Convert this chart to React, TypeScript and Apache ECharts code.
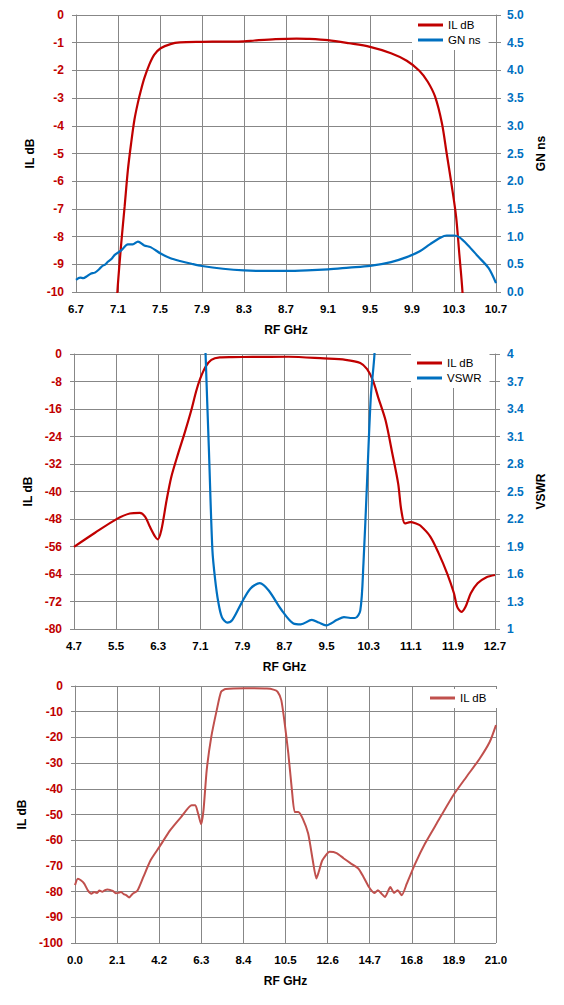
import React, { useEffect, useRef } from "react";
import * as echarts from "echarts";

// ---------- Chart 1: IL dB & GN ns (6.7 - 10.7 GHz)
const c1IL: [number, number][] = [
  [7.085, -11], [7.094, -10], [7.131, -8.24], [7.163, -6.92], [7.194, -5.6], [7.225, -4.63],
  [7.256, -3.79], [7.288, -3.19], [7.319, -2.71], [7.35, -2.29], [7.397, -1.8],
  [7.444, -1.44], [7.506, -1.2], [7.6, -1.05], [7.69, -0.99], [7.9, -0.97], [8.1, -0.96],
  [8.3, -0.95], [8.4, -0.92], [8.6, -0.87], [8.8, -0.85], [8.9, -0.86], [9.1, -0.91],
  [9.3, -1.02], [9.5, -1.15], [9.7, -1.38], [9.85, -1.65], [9.97, -2.01], [10.05, -2.41],
  [10.12, -2.95], [10.185, -3.91], [10.23, -4.99], [10.28, -6.2], [10.32, -7.28],
  [10.35, -8.6], [10.38, -9.96], [10.39, -11],
];
const c1GN: [number, number][] = [
  [6.7, 0.22], [6.74, 0.26], [6.77, 0.25], [6.8, 0.28], [6.84, 0.33], [6.88, 0.35],
  [6.92, 0.41], [6.944, 0.46], [6.98, 0.5], [7.006, 0.55], [7.04, 0.6], [7.069, 0.67],
  [7.131, 0.75], [7.194, 0.86], [7.24, 0.86], [7.29, 0.91], [7.35, 0.84], [7.41, 0.81],
  [7.51, 0.69], [7.6, 0.61], [7.69, 0.56], [7.8, 0.51], [7.9, 0.47], [8.1, 0.42],
  [8.3, 0.39], [8.5, 0.38], [8.7, 0.38], [8.9, 0.39], [9.1, 0.41], [9.3, 0.44],
  [9.5, 0.47], [9.7, 0.54], [9.85, 0.63], [9.97, 0.73], [10.07, 0.86], [10.17, 0.98],
  [10.23, 1.02], [10.3, 1.02], [10.35, 0.99], [10.43, 0.85], [10.53, 0.64],
  [10.63, 0.43], [10.7, 0.16],
];

// ---------- Chart 2: IL dB & VSWR (4.7 - 12.7 GHz)
const c2IL: [number, number][] = [
  [4.7, -56.1], [5.1, -52], [5.5, -48.1], [5.76, -46.4], [5.95, -46.2], [6.05, -47.3],
  [6.14, -50.2], [6.24, -53.1], [6.29, -53.9], [6.36, -51.2], [6.46, -42.5],
  [6.55, -35.7], [6.68, -28.9], [6.8, -23.1], [6.93, -16.3], [7.02, -10.9], [7.1, -7.1],
  [7.2, -3.7], [7.31, -1.7], [7.47, -1.0], [7.7, -0.9], [8.09, -0.85], [8.77, -0.8],
  [9.45, -1.3], [9.86, -1.7], [10.14, -2.6], [10.27, -4.4], [10.38, -7.7],
  [10.48, -12.6], [10.62, -19.3], [10.75, -29], [10.86, -37.7], [10.92, -45.5],
  [10.99, -49.3], [11.09, -48.9], [11.2, -49.3], [11.28, -49.9], [11.47, -53.1],
  [11.63, -58], [11.79, -63.8], [11.92, -69.6], [11.98, -73.5], [12.06, -75],
  [12.14, -73.5], [12.24, -69.6], [12.37, -66.7], [12.53, -65], [12.7, -64.3],
];
const c2VSWR: [number, number][] = [
  [7.17, 4.6], [7.2, 4.0], [7.265, 2.93], [7.33, 1.86], [7.38, 1.55], [7.44, 1.3],
  [7.51, 1.13], [7.61, 1.07], [7.71, 1.1], [7.88, 1.28], [8.05, 1.44], [8.23, 1.5],
  [8.4, 1.42], [8.64, 1.21], [8.87, 1.06], [9.01, 1.05], [9.22, 1.1], [9.35, 1.07],
  [9.49, 1.04], [9.7, 1.1], [9.83, 1.13], [9.95, 1.12], [10.04, 1.12], [10.14, 1.2],
  [10.2, 1.71], [10.27, 2.62], [10.34, 3.53], [10.41, 4.0], [10.44, 4.5],
];

// ---------- Chart 3: IL dB wideband (0 - 21 GHz)
const c3IL: [number, number][] = [
  [0, -77.5], [0.14, -75], [0.29, -75.6], [0.46, -76.9], [0.64, -79.5], [0.82, -80.8],
  [0.95, -80.2], [1.09, -80.5], [1.22, -79.6], [1.36, -80.1], [1.5, -79.4], [1.63, -79.2],
  [1.76, -79.4], [1.89, -79.7], [2.03, -80.6], [2.16, -80.5], [2.3, -80.2], [2.43, -81],
  [2.55, -81.4], [2.7, -82.3], [2.88, -80.8], [3.11, -79.7], [3.41, -74.3], [3.77, -67.8],
  [4.21, -62.6], [4.75, -56.1], [5.29, -51], [5.82, -46.4], [6.0, -46.4], [6.14, -49.6],
  [6.29, -53.8], [6.41, -48.3], [6.57, -32.7], [6.8, -19.7], [7.07, -9.4], [7.29, -2.2],
  [7.52, -1.2], [8.5, -0.9], [9.57, -1.0], [9.9, -1.4], [10.1, -2.2], [10.29, -5.5],
  [10.46, -14.5], [10.64, -26.2], [10.82, -40.5], [10.96, -49], [11.14, -49],
  [11.36, -51.6], [11.63, -57.4], [11.86, -67.8], [12.04, -74.9], [12.16, -72.3],
  [12.34, -67.8], [12.7, -64.5], [13.05, -65], [13.41, -67.1], [13.77, -69.1],
  [14.13, -71], [14.39, -74.3], [14.66, -78.2], [14.93, -80.5], [15.11, -79.5],
  [15.29, -80.8], [15.46, -82.1], [15.73, -78.2], [15.91, -80.5], [16.09, -79.5],
  [16.3, -81.4], [16.55, -76.9], [16.97, -69.1], [17.46, -61.3], [18.04, -53.5],
  [18.87, -42.5], [19.53, -35.3], [20.19, -28.2], [20.69, -21.7], [21.0, -15.2],
];

// offsets so that interval ticks start at a multiple of the interval
const X1_MIN = 6.7;
const X2_MIN = 4.7;
const VSWR_MIN = 1;

const RED = "#c00000";
const RED3 = "#c0504d";
const BLUE = "#0070c0";
const GRID = "#878787";
const FONT = "'Liberation Sans', Arial, sans-serif";

const shift = (arr: [number, number][], dx: number, dy = 0) =>
  arr.map(([x, y]) => [x - dx, y - dy]);

export default function App() {
  const ref = useRef<HTMLDivElement>(null);
  useEffect(() => {
    document.body.style.margin = "0";
    const chart = echarts.init(ref.current!, undefined, { renderer: "svg" });
    const axisLine = { show: true, lineStyle: { color: GRID, width: 1 } };
    const splitLine = { show: true, lineStyle: { color: GRID, width: 1 } };
    const tick = (len: number) => ({ show: true, length: len, lineStyle: { color: GRID } });
    const lbl = (color: string, fmt?: (v: number) => string, margin = 12, size = 12) => ({
      color,
      fontFamily: FONT,
      fontWeight: "bold" as const,
      fontSize: size,
      margin,
      formatter: fmt,
    });
    const nameStyle = { color: "#000", fontFamily: FONT, fontWeight: "bold" as const, fontSize: 12 };
    const xAx = (gridIndex: number, max: number, interval: number, off: number) => ({
      type: "value",
      gridIndex,
      min: 0,
      max,
      interval,
      axisLine,
      splitLine,
      axisTick: tick(4),
      axisLabel: lbl("#000", (v: number) => (v + off).toFixed(1), 11, 11.5),
      name: "RF GHz",
      nameLocation: "middle",
      nameGap: 32,
      nameTextStyle: nameStyle,
    });
    const legend = (left: number, top: number, names: string[]) => ({
      orient: "vertical",
      left,
      top,
      data: names,
      icon: "rect",
      itemWidth: 25,
      itemHeight: 3,
      itemGap: 3,
      backgroundColor: "#fff",
      padding: [3, 8, 4, 6],
      textStyle: { color: "#000", fontFamily: FONT, fontSize: 11.5 },
    });
    const yName = (name: string, gap: number) => ({
      name,
      nameLocation: "middle",
      nameGap: gap,
      nameRotate: 90,
      nameTextStyle: nameStyle,
    });
    const option: any = {
      animation: false,
      backgroundColor: "#fff",
      grid: [
        { left: 76, top: 15, width: 420, height: 277 },
        { left: 74, top: 354, width: 421, height: 275 },
        { left: 75, top: 686, width: 421, height: 257 },
      ],
      xAxis: [xAx(0, 4, 0.4, X1_MIN), xAx(1, 8, 0.8, X2_MIN), xAx(2, 21, 2.1, 0)],
      yAxis: [
        {
          type: "value", gridIndex: 0, min: -10, max: 0, interval: 1,
          axisLine, splitLine, axisTick: tick(4), axisLabel: lbl(RED),
          ...yName("IL dB", 36),
        },
        {
          type: "value", gridIndex: 0, position: "right", min: 0, max: 5, interval: 0.5,
          axisLine, splitLine: { show: false }, axisTick: tick(5),
          axisLabel: lbl(BLUE, (v: number) => v.toFixed(1), 11),
          ...yName("GN ns", 39),
        },
        {
          type: "value", gridIndex: 1, min: -80, max: 0, interval: 8,
          axisLine, splitLine, axisTick: tick(4), axisLabel: lbl(RED),
          ...yName("IL dB", 34),
        },
        {
          type: "value", gridIndex: 1, position: "right", min: 0, max: 3, interval: 0.3,
          axisLine, splitLine: { show: false }, axisTick: tick(5),
          axisLabel: lbl(BLUE, (v: number) => String(Number((v + VSWR_MIN).toFixed(1))), 12),
          ...yName("VSWR", 36),
        },
        {
          type: "value", gridIndex: 2, min: -100, max: 0, interval: 10,
          axisLine, splitLine, axisTick: tick(4), axisLabel: lbl(RED),
          ...yName("IL dB", 42),
        },
      ],
      legend: [
        legend(412, 16, ["IL dB", "GN ns"]),
        legend(411, 354, ["IL dB ", "VSWR"]),
        legend(424, 689, ["IL dB  "]),
      ],
      series: [
        {
          type: "line", name: "IL dB", xAxisIndex: 0, yAxisIndex: 0, data: shift(c1IL, X1_MIN),
          showSymbol: false, smooth: 0.3, lineStyle: { color: RED, width: 2.2 }, itemStyle: { color: RED },
        },
        {
          type: "line", name: "GN ns", xAxisIndex: 0, yAxisIndex: 1, data: shift(c1GN, X1_MIN),
          showSymbol: false, smooth: 0.3, lineStyle: { color: BLUE, width: 2.2 }, itemStyle: { color: BLUE },
        },
        {
          type: "line", name: "IL dB ", xAxisIndex: 1, yAxisIndex: 2, data: shift(c2IL, X2_MIN),
          showSymbol: false, smooth: 0.3, lineStyle: { color: RED, width: 2.2 }, itemStyle: { color: RED },
        },
        {
          type: "line", name: "VSWR", xAxisIndex: 1, yAxisIndex: 3, data: shift(c2VSWR, X2_MIN, VSWR_MIN),
          showSymbol: false, smooth: 0.3, lineStyle: { color: BLUE, width: 2.2 }, itemStyle: { color: BLUE },
        },
        {
          type: "line", name: "IL dB  ", xAxisIndex: 2, yAxisIndex: 4, data: c3IL,
          showSymbol: false, smooth: 0.2, lineStyle: { color: RED3, width: 2 }, itemStyle: { color: RED3 },
        },
      ],
    };
    chart.setOption(option);
    return () => chart.dispose();
  }, []);
  return (
    <div
      ref={ref}
      style={{ position: "absolute", left: 0, top: 0, width: 564, height: 1005 }}
    />
  );
}
